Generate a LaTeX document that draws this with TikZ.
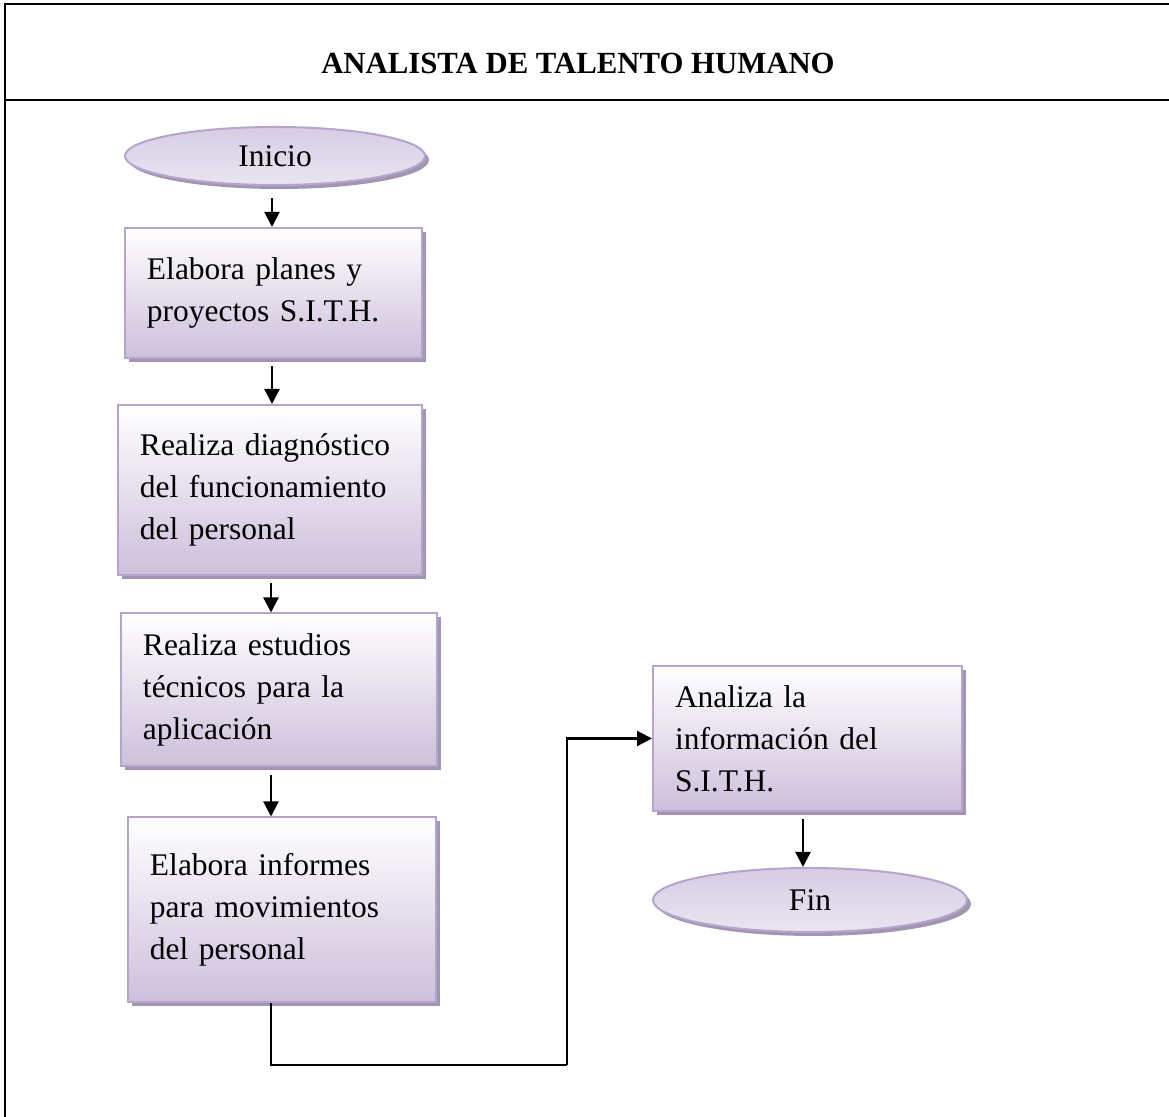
\documentclass[tikz,border=0pt]{standalone}
\usepackage{fontspec}
\setmainfont{Liberation Serif}
\usetikzlibrary{arrows.meta,shapes.geometric,shadows}
\definecolor{lila}{HTML}{CDBFDB}
\definecolor{lilaedge}{HTML}{B4A5CB}
\definecolor{lilashadow}{HTML}{A295B3}
\definecolor{lilatop}{HTML}{D6CCE4}
\definecolor{lilalow}{HTML}{EAE5F1}
\begin{document}
\begin{tikzpicture}[x=0.4pt,y=-0.4pt,
  every node/.style={font=\fontsize{12.6}{16.8}\selectfont},
  lshadow/.style={drop shadow={shadow xshift=1.6pt,shadow yshift=-1.6pt,fill=lilashadow,opacity=1}},
  proc/.style={rectangle,draw=lilaedge,line width=0.8pt,top color=white,bottom color=lila,
    align=left,inner xsep=8.8pt,inner ysep=0pt,lshadow},
  term/.style={ellipse,draw=lilaedge,line width=0.8pt,top color=lilatop,bottom color=lilalow,
    inner sep=0pt,lshadow},
  flow/.style={line width=0.9pt,-{Triangle[length=6pt,width=6pt]}}]
  \useasboundingbox (0,0) rectangle (1169,1117);
  % marco y encabezado
  \draw[line width=1.1pt] (5,1117) -- (5,4) -- (1169,4);
  \draw[line width=1.1pt] (5,100) -- (1169,100);
  \node[font=\fontsize{12.3}{14}\selectfont\bfseries] (titulo) at (578,63) {ANALISTA DE TALENTO HUMANO};
  % pasos
  \node[term,minimum width=120pt,minimum height=23.2pt] (inicio) at (275,156) {Inicio};
  \node[proc,text width=101.2pt,minimum height=52pt] (planes) at (273.5,293)
    {Elabora planes y\\proyectos S.I.T.H.};
  \node[proc,text width=104pt,minimum height=68pt] (diag) at (270,490)
    {Realiza diagnóstico\\del funcionamiento\\del personal};
  \node[proc,text width=108.8pt,minimum height=61.2pt] (estudios) at (279,690)
    {Realiza estudios\\técnicos para la\\aplicación};
  \node[proc,text width=105.6pt,minimum height=74pt] (informes) at (282,910)
    {Elabora informes\\para movimientos\\del personal};
  \node[proc,text width=106pt,minimum height=58pt] (analiza) at (807.5,738.5)
    {Analiza la\\información del\\S.I.T.H.};
  \node[term,minimum width=125.6pt,minimum height=25.6pt] (fin) at (810,900) {Fin};
  % conectores
  \draw[flow] ([yshift=-5pt]inicio.south -| 272,0) -- (planes.north -| 272,0);
  \draw[flow] ([yshift=-3pt]planes.south -| 272,0) -- (diag.north -| 272,0);
  \draw[flow] ([yshift=-3pt]diag.south -| 271,0) -- (estudios.north -| 271,0);
  \draw[flow] ([yshift=-3pt]estudios.south -| 271,0) -- (informes.north -| 271,0);
  \coordinate (codo) at (567,1065);
  \draw[line width=0.7pt] (informes.south -| 271,0) |- (codo);
  \draw[flow] (codo) |- (analiza.west);
  \draw[flow] ([yshift=-3pt]analiza.south -| 803,0) -- (fin.north -| 803,0);
\end{tikzpicture}
\end{document}
